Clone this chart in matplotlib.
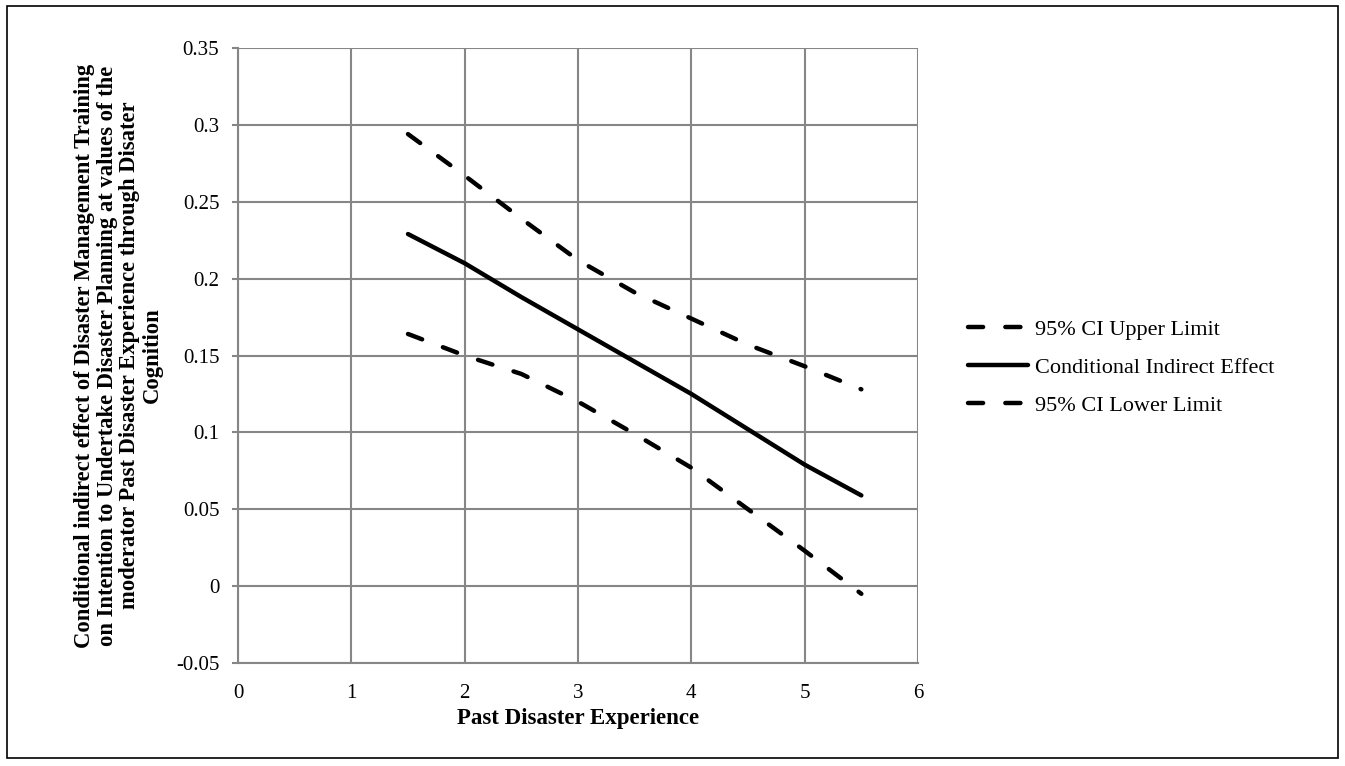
import matplotlib
matplotlib.use("Agg")
import matplotlib.pyplot as plt
from matplotlib.patches import Rectangle

x_vals = [1.5, 2.0, 2.5, 3.0, 3.5, 4.0, 4.5, 5.0, 5.5]
upper = [0.294, 0.267, 0.239, 0.212, 0.191, 0.174, 0.157, 0.143, 0.128]
effect = [0.229, 0.210, 0.188, 0.167, 0.146, 0.125, 0.102, 0.079, 0.059]
lower = [0.164, 0.150, 0.138, 0.120, 0.099, 0.077, 0.050, 0.023, -0.005]

x_ticks = [0, 1, 2, 3, 4, 5, 6]
y_ticks = [-0.05, 0, 0.05, 0.1, 0.15, 0.2, 0.25, 0.3, 0.35]
y_tick_labels = ["-0.05", "0", "0.05", "0.1", "0.15", "0.2", "0.25", "0.3", "0.35"]

labels = ["95% CI Upper Limit", "Conditional Indirect Effect", "95% CI Lower Limit"]
xlabel = "Past Disaster Experience"
ylabel = ("Conditional indirect effect of Disaster Management Training\n"
          "on Intention to Undertake Disaster Planning at values of the\n"
          "moderator Past Disaster Experience through Disater\n"
          "Cognition")

plt.rcParams['font.family'] = ['Liberation Serif', 'DejaVu Serif']

fig = plt.figure(figsize=(13.45, 7.66), dpi=100)
ax = fig.add_axes([238/1345, 1-663/766, (918-238)/1345, (663-48)/766])

grid_c = "#868686"
dash = (0, (3.4, 5.0))
lw = 3.2
ax.plot(x_vals, upper, color="black", lw=lw, linestyle=dash, dash_capstyle="round", label=labels[0])
ax.plot(x_vals, effect, color="black", lw=lw, solid_capstyle="round", label=labels[1])
ax.plot(x_vals, lower, color="black", lw=lw, linestyle=dash, dash_capstyle="round", label=labels[2])

ax.set_xlim(0, 6)
ax.set_ylim(-0.05, 0.35)
ax.set_xticks(x_ticks)
ax.set_yticks(y_ticks)
ax.set_yticklabels(y_tick_labels)
ax.grid(True, color=grid_c, lw=1.5)
ax.set_axisbelow(True)
for s in ["top", "right"]:
    ax.spines[s].set_visible(False)
for s in ["left", "bottom"]:
    ax.spines[s].set_color(grid_c)
    ax.spines[s].set_linewidth(1.5)
ax.tick_params(axis="y", direction="out", length=4.5, width=1.5, color=grid_c, labelsize=15, pad=9)
ax.tick_params(axis="x", length=0, labelsize=15, pad=15)

ax.set_xlabel(xlabel, fontsize=16.5, fontweight="bold", labelpad=4)
ax.set_ylabel(ylabel, fontsize=16.3, fontweight="bold", linespacing=1.1)
ax.yaxis.label.set_va("center")
ax.yaxis.set_label_coords(-0.176, 0.5)

leg = ax.legend(loc="center left", bbox_to_anchor=(1.0735, 0.48), frameon=False,
                borderaxespad=0, borderpad=0,
                fontsize=16, handlelength=2.7, handletextpad=0.3, labelspacing=0.78)

fig.patches.append(Rectangle((7/1345, 8/766), 1-14/1345, 1-14/766, transform=fig.transFigure,
                             fill=False, edgecolor="black", lw=1.2))

fig.savefig("out.png", dpi=100)
